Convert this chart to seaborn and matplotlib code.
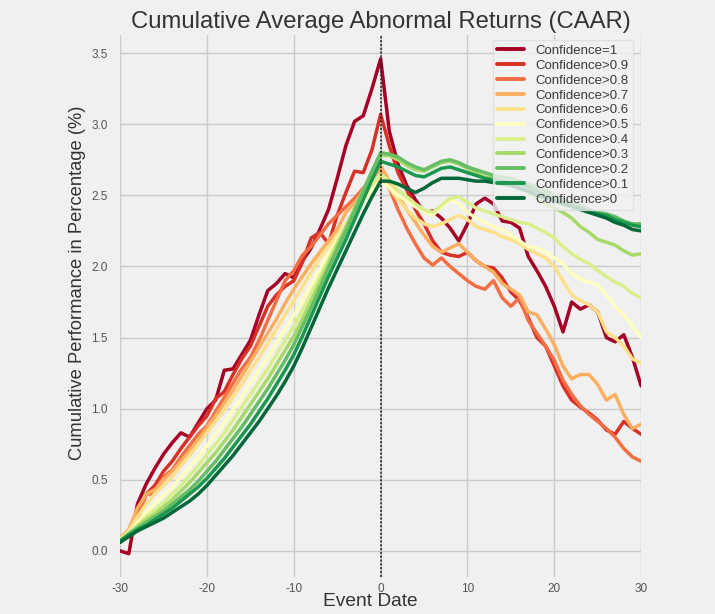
import matplotlib
matplotlib.use("Agg")
import matplotlib.pyplot as plt
import seaborn as sns
import pandas as pd

# ---------------- data ----------------
event_date = list(range(-30, 31))

series_labels = ["Confidence=1", "Confidence>0.9", "Confidence>0.8", "Confidence>0.7",
                 "Confidence>0.6", "Confidence>0.5", "Confidence>0.4", "Confidence>0.3",
                 "Confidence>0.2", "Confidence>0.1", "Confidence>0"]

caar_conf_1 = [0.00, -0.02, 0.33, 0.47, 0.58, 0.68, 0.76, 0.83, 0.80, 0.90, 1.00, 1.06, 1.27, 1.28,
               1.38, 1.48, 1.66, 1.83, 1.88, 1.95, 1.92, 2.04, 2.13, 2.26, 2.40, 2.62, 2.85, 3.02,
               3.06, 3.25, 3.46,
               2.95, 2.72, 2.57, 2.47, 2.38, 2.39, 2.34, 2.27, 2.18, 2.30, 2.44, 2.48, 2.44, 2.32,
               2.31, 2.27, 2.07, 1.97, 1.86, 1.72, 1.54, 1.75, 1.70, 1.73, 1.68, 1.50, 1.47, 1.52,
               1.36, 1.16]
caar_conf_09 = [0.06, 0.12, 0.25, 0.40, 0.46, 0.56, 0.63, 0.72, 0.80, 0.88, 0.95, 1.07, 1.12, 1.24,
                1.35, 1.44, 1.58, 1.72, 1.80, 1.86, 1.90, 2.03, 2.20, 2.24, 2.16, 2.36, 2.52, 2.67,
                2.66, 2.82, 3.07,
                2.85, 2.66, 2.54, 2.40, 2.30, 2.18, 2.10, 2.08, 2.07, 2.10, 2.04, 2.00, 1.99, 1.92,
                1.82, 1.76, 1.64, 1.50, 1.44, 1.30, 1.16, 1.06, 1.01, 0.97, 0.92, 0.85, 0.82, 0.91,
                0.86, 0.82]
caar_conf_08 = [0.07, 0.12, 0.22, 0.40, 0.40, 0.52, 0.57, 0.66, 0.74, 0.82, 0.88, 0.98, 1.08, 1.18,
                1.28, 1.36, 1.48, 1.62, 1.76, 1.90, 1.97, 2.08, 2.14, 2.22, 2.30, 2.36, 2.42, 2.48,
                2.55, 2.62, 2.69,
                2.55, 2.40, 2.27, 2.16, 2.06, 2.01, 2.06, 2.00, 1.95, 1.90, 1.86, 1.84, 1.90, 1.78,
                1.72, 1.78, 1.62, 1.53, 1.44, 1.34, 1.20, 1.10, 1.02, 0.96, 0.91, 0.86, 0.80, 0.72,
                0.66, 0.63]
caar_conf_07 = [0.09, 0.15, 0.30, 0.40, 0.43, 0.50, 0.56, 0.63, 0.70, 0.78, 0.87, 0.95, 1.04, 1.13,
                1.23, 1.33, 1.43, 1.53, 1.63, 1.74, 1.84, 1.93, 2.02, 2.10, 2.18, 2.26, 2.38, 2.45,
                2.52, 2.61, 2.71,
                2.60, 2.50, 2.40, 2.31, 2.22, 2.14, 2.10, 2.13, 2.16, 2.10, 2.04, 2.00, 1.96, 1.88,
                1.84, 1.80, 1.68, 1.66, 1.56, 1.45, 1.30, 1.21, 1.24, 1.24, 1.17, 1.06, 1.10, 0.96,
                0.86, 0.89]
caar_conf_06 = [0.08, 0.14, 0.24, 0.33, 0.40, 0.46, 0.52, 0.60, 0.67, 0.75, 0.83, 0.91, 0.99, 1.08,
                1.17, 1.27, 1.36, 1.46, 1.56, 1.66, 1.76, 1.86, 1.96, 2.06, 2.14, 2.22, 2.30, 2.38,
                2.46, 2.55, 2.63,
                2.55, 2.47, 2.40, 2.34, 2.30, 2.28, 2.30, 2.33, 2.36, 2.33, 2.28, 2.26, 2.24, 2.21,
                2.19, 2.16, 2.12, 2.09, 2.06, 2.00, 1.90, 1.80, 1.76, 1.73, 1.68, 1.54, 1.50, 1.44,
                1.35, 1.32]
caar_conf_05 = [0.08, 0.13, 0.20, 0.27, 0.33, 0.39, 0.45, 0.52, 0.59, 0.66, 0.74, 0.82, 0.90, 0.99,
                1.08, 1.18, 1.27, 1.36, 1.46, 1.56, 1.66, 1.76, 1.87, 1.98, 2.09, 2.19, 2.29, 2.38,
                2.46, 2.54, 2.60,
                2.56, 2.50, 2.46, 2.42, 2.38, 2.36, 2.42, 2.47, 2.44, 2.38, 2.34, 2.31, 2.28, 2.26,
                2.22, 2.18, 2.14, 2.13, 2.10, 2.06, 2.02, 1.95, 1.91, 1.89, 1.87, 1.80, 1.72, 1.66,
                1.58, 1.50]
caar_conf_04 = [0.08, 0.13, 0.18, 0.24, 0.29, 0.34, 0.40, 0.46, 0.53, 0.60, 0.68, 0.75, 0.83, 0.92,
                1.01, 1.10, 1.19, 1.28, 1.38, 1.48, 1.58, 1.69, 1.81, 1.93, 2.05, 2.17, 2.28, 2.39,
                2.49, 2.58, 2.65,
                2.60, 2.54, 2.49, 2.44, 2.40, 2.38, 2.43, 2.48, 2.49, 2.45, 2.41, 2.39, 2.37, 2.35,
                2.33, 2.31, 2.30, 2.27, 2.24, 2.20, 2.14, 2.09, 2.05, 2.02, 1.97, 1.93, 1.89, 1.86,
                1.81, 1.78]
caar_conf_03 = [0.07, 0.12, 0.17, 0.22, 0.26, 0.31, 0.36, 0.42, 0.48, 0.55, 0.62, 0.69, 0.77, 0.85,
                0.94, 1.03, 1.12, 1.21, 1.31, 1.41, 1.51, 1.63, 1.76, 1.89, 2.02, 2.15, 2.28, 2.41,
                2.54, 2.66, 2.78,
                2.78, 2.75, 2.71, 2.68, 2.67, 2.70, 2.73, 2.74, 2.72, 2.69, 2.66, 2.63, 2.62, 2.60,
                2.58, 2.55, 2.52, 2.48, 2.44, 2.41, 2.38, 2.34, 2.28, 2.24, 2.19, 2.17, 2.15, 2.11,
                2.08, 2.09]
caar_conf_02 = [0.07, 0.12, 0.16, 0.20, 0.24, 0.28, 0.33, 0.38, 0.43, 0.49, 0.56, 0.63, 0.71, 0.79,
                0.87, 0.96, 1.05, 1.14, 1.24, 1.34, 1.45, 1.58, 1.71, 1.85, 1.99, 2.12, 2.25, 2.39,
                2.53, 2.67, 2.80,
                2.79, 2.77, 2.73, 2.70, 2.68, 2.71, 2.74, 2.75, 2.73, 2.70, 2.68, 2.66, 2.64, 2.63,
                2.62, 2.60, 2.58, 2.56, 2.53, 2.50, 2.47, 2.45, 2.43, 2.40, 2.38, 2.37, 2.35, 2.32,
                2.30, 2.30]
caar_conf_01 = [0.07, 0.11, 0.15, 0.18, 0.22, 0.26, 0.30, 0.35, 0.40, 0.45, 0.51, 0.58, 0.65, 0.73,
                0.81, 0.89, 0.98, 1.07, 1.17, 1.27, 1.38, 1.51, 1.65, 1.79, 1.93, 2.06, 2.19, 2.33,
                2.47, 2.61, 2.74,
                2.72, 2.70, 2.67, 2.64, 2.63, 2.66, 2.69, 2.70, 2.68, 2.66, 2.64, 2.62, 2.61, 2.60,
                2.59, 2.58, 2.56, 2.53, 2.50, 2.47, 2.45, 2.43, 2.41, 2.39, 2.37, 2.36, 2.33, 2.31,
                2.29, 2.28]
caar_conf_0 = [0.06, 0.10, 0.14, 0.17, 0.20, 0.23, 0.27, 0.31, 0.35, 0.40, 0.46, 0.53, 0.60, 0.67,
               0.75, 0.83, 0.91, 1.00, 1.09, 1.19, 1.30, 1.43, 1.57, 1.71, 1.85, 1.98, 2.11, 2.24,
               2.37, 2.49, 2.60,
               2.60, 2.58, 2.55, 2.52, 2.55, 2.59, 2.62, 2.62, 2.62, 2.61, 2.60, 2.60, 2.59, 2.58,
               2.57, 2.55, 2.53, 2.50, 2.48, 2.46, 2.44, 2.42, 2.40, 2.38, 2.36, 2.34, 2.31, 2.29,
               2.26, 2.25]

x_ticks = [-30, -20, -10, 0, 10, 20, 30]
y_ticks = [0.0, 0.5, 1.0, 1.5, 2.0, 2.5, 3.0, 3.5]
y_tick_labels = ["0.0", "0.5", "1.0", "1.5", "2.0", "2.5", "3.0", "3.5"]

all_series = [caar_conf_1, caar_conf_09, caar_conf_08, caar_conf_07, caar_conf_06, caar_conf_05,
              caar_conf_04, caar_conf_03, caar_conf_02, caar_conf_01, caar_conf_0]

rows = []
for lab, vals in zip(series_labels, all_series):
    for xv, yv in zip(event_date, vals):
        rows.append({"Event Date": xv, "CAAR": yv, "Series": lab})
df = pd.DataFrame(rows)

# ---------------- style ----------------
BG = "#f0f0f0"
sns.set_theme(style="whitegrid")
plt.rcParams["font.family"] = ["Liberation Sans", "DejaVu Sans"]
plt.rcParams["axes.facecolor"] = BG
plt.rcParams["figure.facecolor"] = BG

fig = plt.figure(figsize=(7.15, 6.14), dpi=100, facecolor=BG)
ax = fig.add_axes([0.168, 0.060, 0.7287, 0.8835])
ax.set_facecolor(BG)

palette = ["#a50026", "#d73027", "#f46d43", "#fdae61", "#fee08b", "#ffffbf",
           "#d9ef8b", "#a6d96a", "#66bd63", "#1a9850", "#006837"]
sns.lineplot(data=df, x="Event Date", y="CAAR", hue="Series", hue_order=series_labels,
             palette=palette, linewidth=2.5, errorbar=None, ax=ax)

ax.axvline(0, color="#222222", linestyle=(0, (1.5, 1)), linewidth=1.1, zorder=5)

ax.set_xlim(-30, 30)
ax.set_ylim(-0.185, 3.63)
ax.set_xticks(x_ticks)
ax.set_xticklabels([str(t) for t in x_ticks])
ax.set_yticks(y_ticks)
ax.set_yticklabels(y_tick_labels)
ax.grid(True, color="#cbcbcb", linewidth=1.0)
for s in ax.spines.values():
    s.set_visible(False)
ax.tick_params(axis="both", length=0, labelsize=8.5, labelcolor="#555555")
ax.tick_params(axis="x", pad=4)
ax.tick_params(axis="y", pad=9)

ax.set_title("Cumulative Average Abnormal Returns (CAAR)", fontsize=17.2, color="#333333", pad=5)
ax.set_xlabel("Event Date", fontsize=13.8, color="#333333")
ax.set_ylabel("Cumulative Performance in Percentage (%)", fontsize=13.2, color="#333333")
ax.xaxis.set_label_coords(0.481, -0.030)
ax.yaxis.set_label_coords(-0.066, 0.542)

leg = ax.legend(loc="upper right", bbox_to_anchor=(0.985, 0.99), borderaxespad=0,
                fontsize=9.5, labelspacing=0.20, handlelength=2.0, handletextpad=0.9,
                frameon=True, fancybox=False, framealpha=0.8, borderpad=0.35)
leg.get_frame().set_facecolor("#f2f2f2")
leg.get_frame().set_edgecolor("#dddddd")
for t in leg.get_texts():
    t.set_color("#3a3a3a")
for h in leg.get_lines():
    h.set_linewidth(2.8)

fig.savefig("out.png", dpi=100, facecolor=BG)
